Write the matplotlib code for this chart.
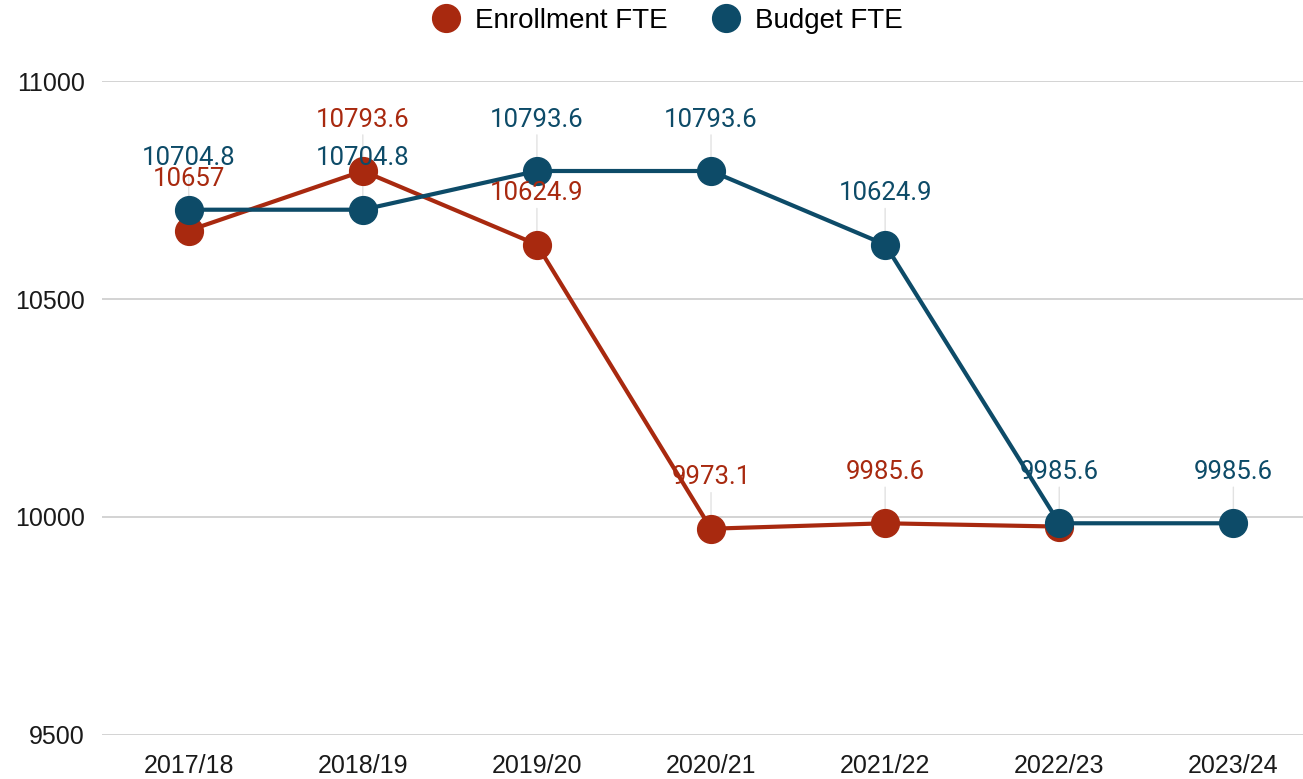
#!/usr/bin/env python3

import matplotlib
matplotlib.use('Agg')
import matplotlib.pyplot as plt
from matplotlib.lines import Line2D

years = ['2017/18', '2018/19', '2019/20', '2020/21', '2021/22', '2022/23', '2023/24']
enrollment_fte = [10657, 10793.6, 10624.9, 9973.1, 9985.6, 9978]
budget_fte = [10704.8, 10704.8, 10793.6, 10793.6, 10624.9, 9985.6, 9985.6]
# the label of the last enrollment point is hidden behind the budget label
enrollment_labels = ['10657', '10793.6', '10624.9', '9973.1', '9985.6', None]
budget_labels = ['10704.8', '10704.8', '10793.6', '10793.6', '10624.9', '9985.6', '9985.6']

RED = '#a8290f'
BLUE = '#0d4b68'


def draw_labels(ax, xs, ys, labels, color):
    for x, y, lab in zip(xs, ys, labels):
        if lab is None:
            continue
        # faint leader line under the markers
        ax.annotate('', xy=(x, y), xytext=(0, 26), textcoords='offset points',
                    zorder=2,
                    arrowprops=dict(arrowstyle='-', color='#e2e2e2', lw=1,
                                    shrinkA=0, shrinkB=0))
        ax.annotate(lab, xy=(x, y), xytext=(0, 37), textcoords='offset points',
                    ha='center', va='center', color=color, fontsize=18.5,
                    family='Roboto', zorder=6)


def main():
    fig = plt.figure(figsize=(13.03, 7.79), dpi=100)
    ax = fig.add_axes([0.078, 0.0565, 0.922, 0.8395])

    x_all = list(range(len(years)))
    x_enr = x_all[:len(enrollment_fte)]

    ax.plot(x_enr, enrollment_fte, color=RED, lw=3, marker='o', markersize=20,
            zorder=3, label='Enrollment FTE')
    ax.plot(x_all, budget_fte, color=BLUE, lw=3, marker='o', markersize=20,
            zorder=4, label='Budget FTE')

    draw_labels(ax, x_enr, enrollment_fte, enrollment_labels, RED)
    draw_labels(ax, x_all, budget_fte, budget_labels, BLUE)

    ax.set_ylim(9500, 11000)
    ax.set_yticks([9500, 10000, 10500, 11000])
    ax.set_xlim(-0.5, 6.4)
    ax.set_xticks(x_all)
    ax.set_xticklabels(years)
    ax.grid(axis='y', color='#cccccc', lw=1.2)
    ax.set_axisbelow(True)
    for s in ax.spines.values():
        s.set_visible(False)
    ax.tick_params(axis='both', length=0, labelsize=18, labelcolor='#1a1a1a')
    ax.tick_params(axis='x', pad=14)
    ax.tick_params(axis='y', pad=12)
    for t in ax.get_xticklabels() + ax.get_yticklabels():
        t.set_family('Liberation Sans')

    handles = [
        Line2D([], [], ls='none', marker='o', markersize=20, color=RED),
        Line2D([], [], ls='none', marker='o', markersize=20, color=BLUE),
    ]
    fig.legend(handles, ['Enrollment FTE', 'Budget FTE'], loc='upper center',
               bbox_to_anchor=(0.511, 1.022), ncol=2, frameon=False,
               prop={'family': 'Liberation Sans', 'size': 20},
               handletextpad=0.45, columnspacing=1.5, handlelength=1.2)

    fig.savefig('out.png', dpi=100)


if __name__ == '__main__':
    main()
